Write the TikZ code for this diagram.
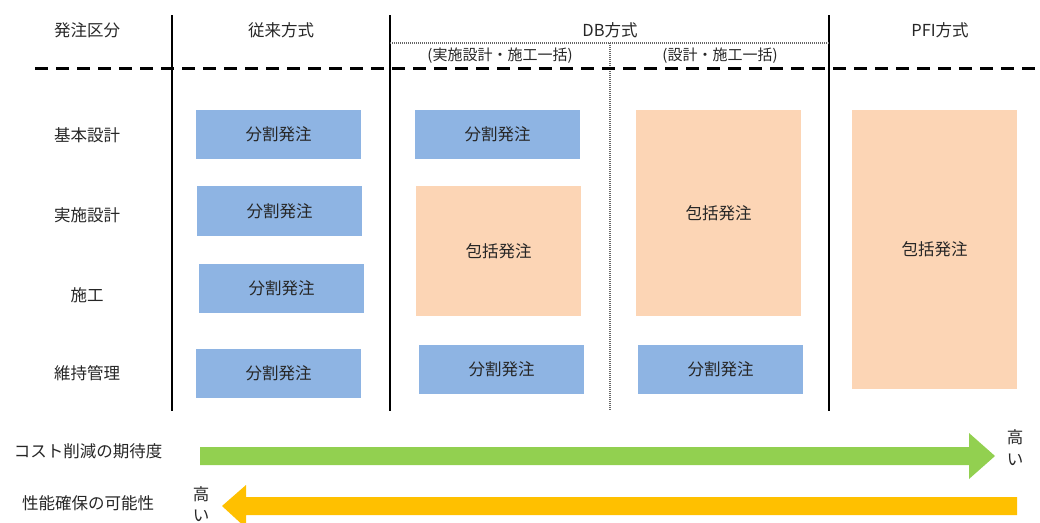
\documentclass[tikz,border=0pt]{standalone}
\usepackage{fontspec}
\setmainfont{Noto Sans CJK JP}
\definecolor{bluebox}{HTML}{8EB4E3}
\definecolor{orangebox}{HTML}{FCD5B5}
\definecolor{greenarrow}{HTML}{92D050}
\definecolor{yellowarrow}{HTML}{FFC000}
\definecolor{txt}{HTML}{262626}
\begin{document}
\begin{tikzpicture}[x=1pt,y=-1pt,
  lbl/.style={font=\fontsize{16.5}{18}\selectfont, text=txt, inner sep=0pt},
  sublbl/.style={font=\fontsize{15}{16}\selectfont, text=txt, inner sep=0pt},
  bbox/.style={fill=bluebox, draw=none, font=\fontsize{16.5}{18}\selectfont, text=txt},
  obox/.style={fill=orangebox, draw=none, font=\fontsize{16.5}{18}\selectfont, text=txt},
  vline/.style={line width=2pt, black},
  dline/.style={line width=1.5pt, black!60, dash pattern=on 1pt off 1pt},
  dashline/.style={line width=3pt, black, dash pattern=on 13pt off 8pt}
]
\useasboundingbox (0,0) rectangle (1040,522);
\clip (0,0) rectangle (1040,522);
% grid lines
\draw[vline] (172,15) -- (172,411);
\draw[vline] (390,15) -- (390,411);
\draw[vline] (829,15) -- (829,411);
\draw[dline] (610,43) -- (610,411);
\draw[dline] (390,43) -- (829,43);
\draw[dashline] (35,68) -- (1040,68);
% headers
\node[lbl] (h0) at (87,30) {発注区分};
\node[lbl] (h1) at (281,30) {従来方式};
\node[lbl] (h2) at (610,30) {DB方式};
\node[lbl] (h3) at (940,30) {PFI方式};
\node[sublbl] (s1) at (500,56) {(実施設計・施工一括)};
\node[sublbl] (s2) at (720,56) {(設計・施工一括)};
% row labels
\node[lbl] (r1) at (87,135) {基本設計};
\node[lbl] (r2) at (87,215) {実施設計};
\node[lbl] (r3) at (87,295) {施工};
\node[lbl] (r4) at (87,373) {維持管理};
% conventional
\path[bbox] (196,110) rectangle node (c1) {分割発注} (361,159);
\path[bbox] (197,186) rectangle node (c2) {分割発注} (362,236);
\path[bbox] (199,264) rectangle node (c3) {分割発注} (364,313);
\path[bbox] (196,349) rectangle node (c4) {分割発注} (361,398);
% DB 1
\path[bbox] (415,110) rectangle node (d1) {分割発注} (580,159);
\path[obox] (416,186) rectangle node (d2) {包括発注} (581,316);
\path[bbox] (419,345) rectangle node (d3) {分割発注} (584,394);
% DB 2
\path[obox] (636,110) rectangle node (e1) {包括発注} (801,316);
\path[bbox] (638,345) rectangle node (e2) {分割発注} (803,394);
% PFI
\path[obox] (852,110) rectangle node (p1) {包括発注} (1017,389);
% bottom labels
\node[lbl] (a1) at (88,451) {コスト削減の期待度};
\node[lbl] (a2) at (88,503) {性能確保の可能性};
% green arrow
\fill[greenarrow] (200,447) -- (969,447) -- (969,433) -- (995,456) -- (969,479) -- (969,465) -- (200,465) -- cycle;
\node[lbl] (g1) at (1015,437) {高};
\node[lbl] (g2) at (1015,460) {い};
% yellow arrow
\fill[yellowarrow] (1017,497) -- (246,497) -- (246,485) -- (222,506) -- (246,528) -- (246,515) -- (1017,515) -- cycle;
\node[lbl] (y1) at (201,494) {高};
\node[lbl] (y2) at (201,516) {い};
\end{tikzpicture}
\end{document}
